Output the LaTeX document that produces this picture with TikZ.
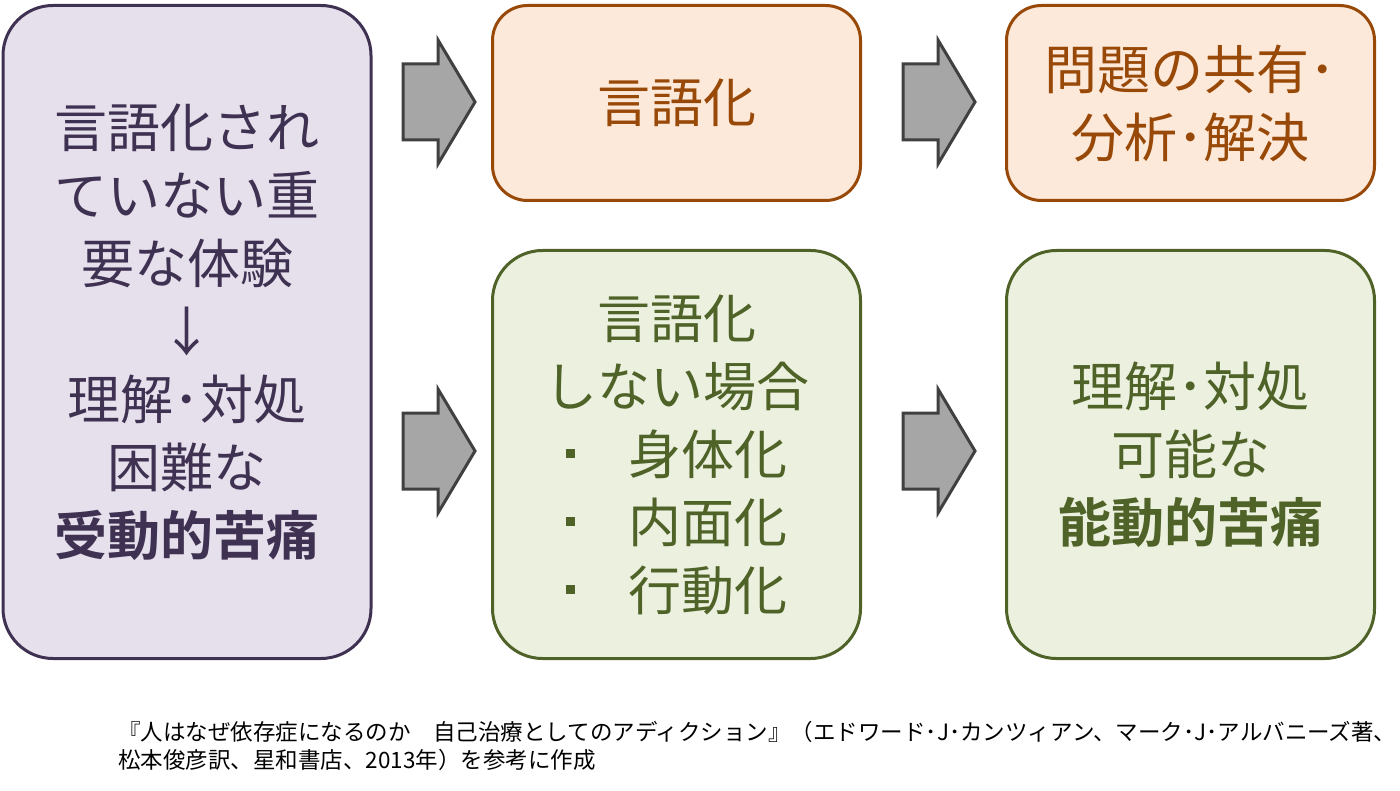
\documentclass[tikz,border=0pt]{standalone}
\usepackage{fontspec}
\setmainfont{Noto Sans CJK JP}[BoldFont={Noto Sans CJK JP Bold}]
\definecolor{purpleline}{HTML}{3F3151}
\definecolor{purplefill}{HTML}{E5E0EC}
\definecolor{orangeline}{HTML}{984807}
\definecolor{orangefill}{HTML}{FDE9D9}
\definecolor{greenline}{HTML}{4F6228}
\definecolor{greenfill}{HTML}{EBF1DE}
\definecolor{arrowfill}{HTML}{A6A6A6}
\definecolor{arrowline}{HTML}{404040}
\newcommand\sqdot{\raisebox{0.3em}{\rule{0.17em}{0.17em}}}
\tikzset{
  box/.style={draw, line width=3pt, align=center, inner sep=0pt, minimum width=368pt,
    font=\fontsize{53}{68}\selectfont},
  purplebox/.style={box, draw=purpleline, fill=purplefill, text=purpleline, rounded corners=50pt},
  orangebox/.style={box, draw=orangeline, fill=orangefill, text=orangeline, rounded corners=35pt},
  greenbox/.style={box, draw=greenline, fill=greenfill, text=greenline, rounded corners=50pt},
  bigarrow/.style={draw=arrowline, fill=arrowfill, line width=3pt},
  note/.style={align=left, inner sep=0pt, anchor=north west, font=\fontsize{22.5}{28}\selectfont}
}
\begin{document}
\begin{tikzpicture}[x=1pt, y=-1pt]
\useasboundingbox (0,0) rectangle (1400,791);
\node[purplebox, minimum height=653pt] (pain) at (187,332)
  {言語化され\\ていない重\\要な体験\\↓\\理解･対処\\困難な\\\textbf{受動的苦痛}};
\node[orangebox, minimum height=195pt] (verbal) at (676.5,103) {言語化};
\node[orangebox, minimum height=195pt] (share) at (1190.5,103)
  {問題の共有･\\分析･解決};
\node[greenbox, minimum height=408pt] (noverbal) at (676.5,454.5)
  {言語化\\しない場合\\\sqdot\hspace{1em}身体化\\\sqdot\hspace{1em}内面化\\\sqdot\hspace{1em}行動化};
\node[greenbox, minimum height=408pt] (active) at (1190.5,454.5)
  {理解･対処\\可能な\\\textbf{能動的苦痛}};
\foreach \p in {(438,102),(938,102),(438,451),(938,451)}{
  \draw[bigarrow, shift={\p}] (-35,-38) -- (0,-38) -- (0,-62) -- (37,0) -- (0,62) -- (0,38) -- (-35,38) -- cycle;
}
\node[note] (source) at (118,721)
  {『人はなぜ依存症になるのか　自己治療としてのアディクション』（エドワード･J･カンツィアン、マーク･J･アルバニーズ著、\\
   松本俊彦訳、星和書店、2013年）を参考に作成};
\end{tikzpicture}
\end{document}
